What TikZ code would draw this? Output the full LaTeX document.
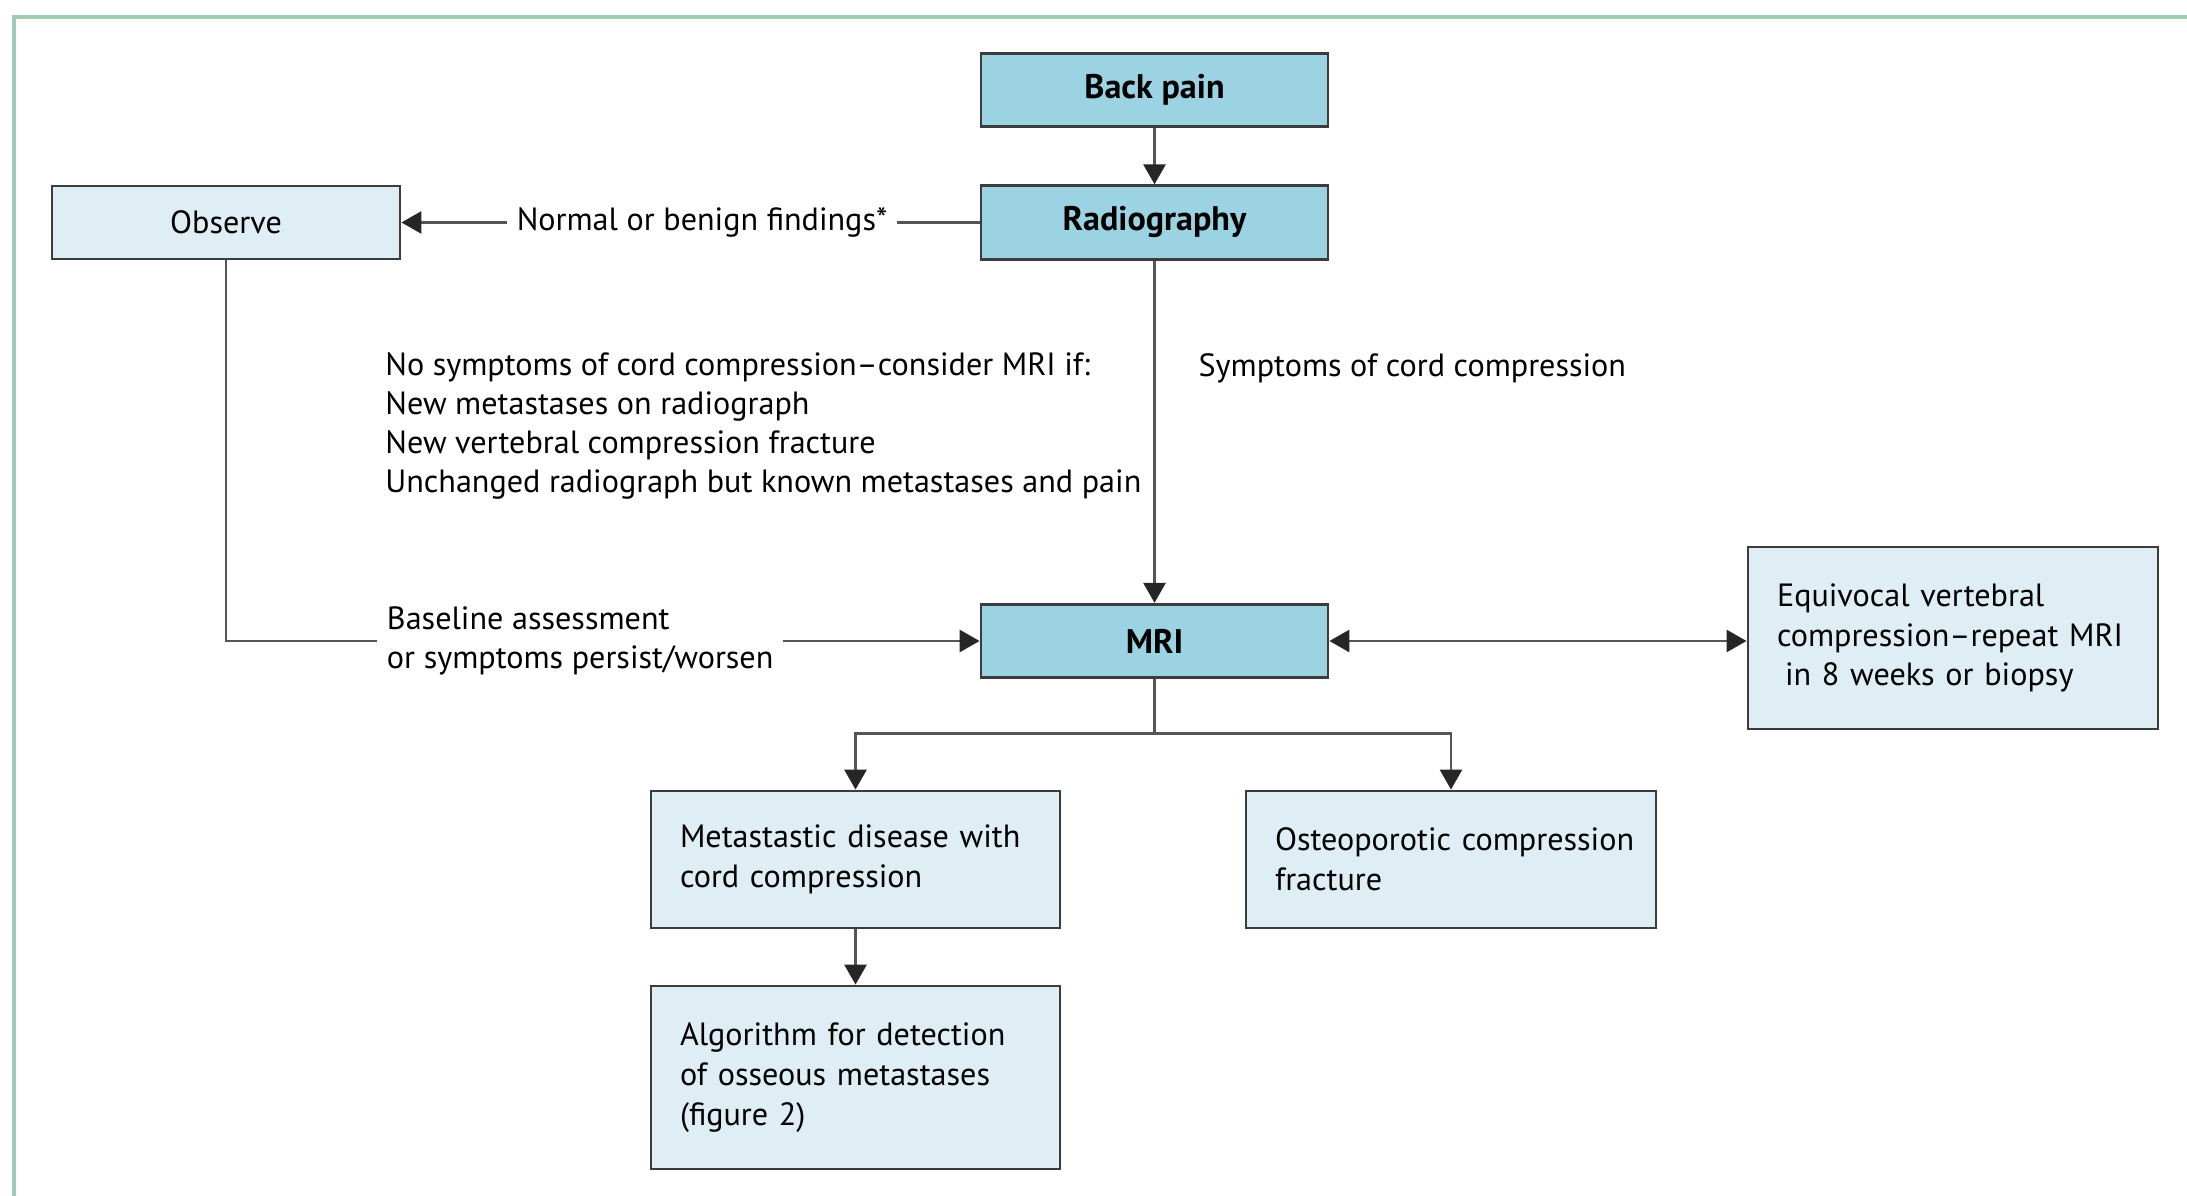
\documentclass[tikz,border=0pt]{standalone}
\usepackage{fontspec}
\setmainfont{PT Sans}
\usetikzlibrary{arrows.meta,positioning,calc}
\definecolor{darkbox}{RGB}{155,211,227}
\definecolor{lightbox}{RGB}{222,238,244}
\definecolor{edge}{RGB}{60,60,60}
\definecolor{wire}{RGB}{85,85,85}
\definecolor{framegreen}{RGB}{160,204,182}

\begin{document}
\begin{tikzpicture}
\tikzstyle{main}=[rectangle, draw=edge, line width=0.8pt, font=\fontsize{9.15}{11.3}\selectfont]
\tikzstyle{dark}=[main, fill=darkbox, minimum width=34.7mm, minimum height=7.35mm, font=\fontsize{9.7}{11.3}\selectfont\bfseries]
\tikzstyle{light}=[main, fill=lightbox, inner xsep=2.9mm, text width=35.1mm, align=left]
\tikzstyle{connect}=[-{Triangle[length=2mm,width=2.2mm,color=black!85]}, draw=wire, line width=0.8pt]
\tikzstyle{both}=[{Triangle[length=2mm,width=2.2mm,color=black!85]}-{Triangle[length=2mm,width=2.2mm,color=black!85]}, draw=wire, line width=0.8pt]
\tikzstyle{note}=[font=\fontsize{9.15}{11.1}\selectfont, align=left]

  \useasboundingbox (0,0) rectangle (21.87,-11.96);
  \draw[framegreen, line width=1.2pt] (0.14,-11.96) -- (0.14,-0.17) -- (21.87,-0.17);

  \node[dark] (backpain) at (11.545,-0.90)                            {Back pain};
  \node[dark] (radio)    [below of =backpain, node distance=13.25mm] {Radiography};
  \node[main, fill=lightbox, minimum width=34.8mm, minimum height=7.3mm]
              (observe)  [left of =radio, node distance=92.85mm]      {Observe};
  \node[dark] (mri)      [below of =radio, node distance=41.85mm]     {MRI};

  \node[light, minimum height=18.2mm, text width=35.2mm]
              (equiv)    [right of =mri, node distance=79.85mm, yshift=0.3mm]
              {Equivocal vertebral\\\mbox{compression–repeat MRI}\\\hspace*{.25em}in 8 weeks or biopsy};
  \node[light, minimum height=13.7mm]
              (meta)     [below of =mri, node distance=21.85mm, xshift=-29.9mm]
              {\mbox{Metastastic disease with}\\cord compression};
  \node[light, minimum height=13.7mm, text width=35.2mm]
              (osteo)    [right of =meta, node distance=59.55mm]
              {\mbox{Osteoporotic compression}\\fracture};
  \node[light, minimum height=18.3mm]
              (algo)     [below of =meta, node distance=21.8mm]
              {Algorithm for detection\\of osseous metastases\\(figure 2)};

  \draw[connect] (backpain) -- (radio);
  \draw[connect] (radio) -- node[pos=0.48, fill=white, inner xsep=1mm, note] {Normal or benign findings*} (observe);
  \draw[connect] (radio) -- node[pos=0.316, right, xshift=3.1mm, note] {Symptoms of cord compression}
    node[pos=0.484, left, note] {No symptoms of cord compression–consider MRI if:\\New metastases on radiograph\\New vertebral compression fracture\\Unchanged radiograph but known metastases and pain} (mri);
  \draw[connect] (observe) |- node[pos=0.735, fill=white, inner xsep=1mm, note] {Baseline assessment\\or symptoms persist/worsen} (mri);
  \draw[both] (mri.east) -- (mri.east -| equiv.west);
  \draw[connect] (mri.south) -- ++(0,-0.54) -| (meta);
  \draw[connect] (mri.south) -- ++(0,-0.54) -| (osteo);
  \draw[connect] (meta) -- (algo);

\end{tikzpicture}
\end{document}
